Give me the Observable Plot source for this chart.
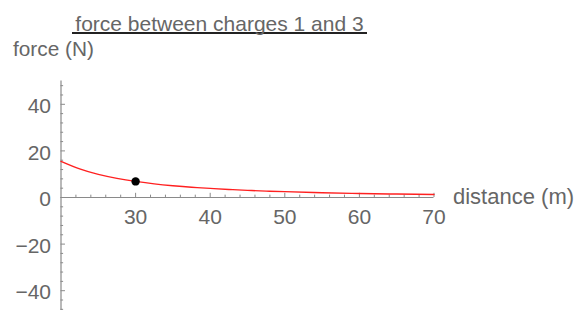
<!DOCTYPE html>
<html>
<head>
<meta charset="utf-8">
<script src="https://cdn.jsdelivr.net/npm/d3@7"></script>
<script src="https://cdn.jsdelivr.net/npm/@observablehq/plot@0.6"></script>
<style>
  html, body { margin: 0; padding: 0; background: #fff; }
  #wrap { position: relative; width: 584px; height: 310px; font-family: "Liberation Sans", Arial, sans-serif; }
  #title { position: absolute; left: 72px; top: 15px; width: 295px; height: 17px; line-height: 18px;
           font-size: 21px; color: #666; text-align: center; border-bottom: 2px solid #222; white-space: nowrap; }
  #ylabel { position: absolute; left: 13px; top: 40px; line-height: 18px; font-size: 20.8px; color: #666; white-space: nowrap; }
  #chart { position: absolute; left: 0; top: 0; }
</style>
</head>
<body>
<div id="wrap">
  <div id="chart"></div>
  <div id="title">force between charges 1 and 3</div>
  <div id="ylabel">force (N)</div>
</div>
<script>
const titleText = "force between charges 1 and 3";
const xLabel = "distance (m)";
const yLabel = "force (N)";

// curve readings (distance in m, force in N)
const distance = [20, 22.5, 25, 27.5, 30, 32.5, 35, 37.5, 40, 42.5, 45, 47.5, 50, 55, 60, 65, 70];
const force    = [15.5, 12.25, 9.9, 8.2, 6.9, 5.85, 5.05, 4.4, 3.9, 3.45, 3.05, 2.75, 2.5, 2.05, 1.72, 1.47, 1.27];

// highlighted point
const pointDistance = [30];
const pointForce = [6.9];

// axes ticks
const xTicks = [30, 40, 50, 60, 70];
const xMinor = [22, 24, 26, 28, 32, 34, 36, 38, 42, 44, 46, 48, 52, 54, 56, 58, 62, 64, 66, 68];
const yTicks = [-40, -20, 0, 20, 40];
const yMinor = [-48, -44, -36, -32, -28, -24, -16, -12, -8, -4, 4, 8, 12, 16, 24, 28, 32, 36, 44, 48];

const curve = distance.map((d, i) => ({distance: d, force: force[i]}));
const pts = pointDistance.map((d, i) => ({distance: d, force: pointForce[i]}));

const axisColor = "#8a8a8a";
const textColor = "#666";

const chart = Plot.plot({
  width: 584,
  height: 310,
  marginLeft: 60.5,
  marginRight: 150.5,
  marginTop: 80.5,
  marginBottom: 0,
  style: {fontFamily: "'Liberation Sans', Arial, sans-serif", fontSize: "21px", background: "transparent", overflow: "visible"},
  x: {domain: [20, 70], axis: null},
  y: {domain: [-48.5, 50], axis: null},
  marks: [
    // y axis line
    Plot.ruleX([20], {y1: -48.5, y2: 50, stroke: axisColor, strokeWidth: 1.2}),
    // x axis line
    Plot.ruleY([0], {x1: 20, x2: 70, stroke: axisColor, strokeWidth: 1.2}),
    // x ticks (upward)
    Plot.ruleX(xTicks, {x: d => d, y1: 0, y2: 1.8, stroke: axisColor, strokeWidth: 1}),
    Plot.ruleX(xMinor, {x: d => d, y1: 0, y2: 1.0, stroke: axisColor, strokeWidth: 1}),
    // y ticks (rightward)
    Plot.ruleY(yTicks, {y: d => d, x1: 20, x2: 20.6, stroke: axisColor, strokeWidth: 1}),
    Plot.ruleY(yMinor, {y: d => d, x1: 20, x2: 20.35, stroke: axisColor, strokeWidth: 1}),
    // tick labels
    Plot.text(xTicks, {x: d => d, y: 0, dy: 20, text: d => String(d), fill: textColor, fontSize: 21}),
    Plot.text(yTicks, {x: 20, y: d => d, dx: -10, dy: 2, textAnchor: "end", text: d => d < 0 ? "\u2212" + Math.abs(d) : String(d), fill: textColor, fontSize: 21}),
    // x axis label
    Plot.text([xLabel], {x: 70, y: 0, dx: 19, dy: -1, textAnchor: "start", text: d => d, fill: textColor, fontSize: 22}),
    // curve
    Plot.line(curve, {x: "distance", y: "force", stroke: "#ff2020", strokeWidth: 1.4, curve: "natural"}),
    // point
    Plot.dot(pts, {x: "distance", y: "force", r: 4.2, fill: "#000", stroke: "none"})
  ]
});
document.getElementById("chart").appendChild(chart);
document.getElementById("title").textContent = titleText;
document.getElementById("ylabel").textContent = yLabel;
</script>
</body>
</html>
